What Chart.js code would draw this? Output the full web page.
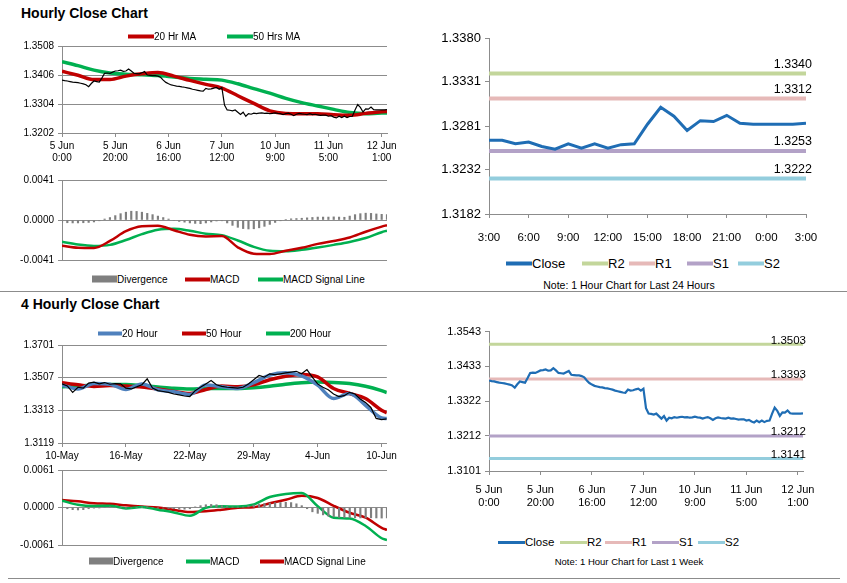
<!DOCTYPE html>
<html>
<head>
<meta charset="utf-8">
<script src="https://cdn.jsdelivr.net/npm/chart.js@4.4.1/dist/chart.umd.min.js"></script>
<style>
  body { margin: 0; background: #fff; width: 847px; height: 583px; position: relative; overflow: hidden;
         font-family: 'Liberation Sans', Arial, sans-serif; }
  canvas { position: absolute; }
  .title { position: absolute; left: 21px; font-weight: bold; font-size: 14px; color: #000; }
  .rule { position: absolute; height: 1px; background: #8c8c8c; }
  .legend { position: absolute; left: 0; width: 847px; height: 0; }
  .legend .item { position: absolute; top: 0; display: flex; align-items: center; transform: translateY(-50%);
                  white-space: nowrap; color: #000; }
  .note { position: absolute; transform: translate(-50%, -50%); white-space: nowrap; color: #000; }
</style>
</head>
<body>
<div class="title" style="top:5px">Hourly Close Chart</div>
<div class="title" style="top:296px">4 Hourly Close Chart</div>
<div class="rule" style="left:0;top:291px;width:847px"></div>
<div class="rule" style="left:8px;top:578px;width:832px"></div>

<canvas id="hourlyPrice" width="400" height="130" style="left:0;top:36px"></canvas>
<canvas id="hourlyMacd" width="400" height="100" style="left:0;top:170px"></canvas>
<canvas id="dayPrice" width="427" height="230" style="left:420px;top:25px"></canvas>
<canvas id="fourPrice" width="400" height="130" style="left:0;top:335px"></canvas>
<canvas id="fourMacd" width="400" height="95" style="left:0;top:460px"></canvas>
<canvas id="weekPrice" width="427" height="200" style="left:420px;top:321px"></canvas>

<div class="note" style="left:629px;top:285px;font:10.5px 'Liberation Sans',sans-serif">Note: 1 Hour Chart for Last 24 Hours</div>
<div class="note" style="left:629px;top:561px;font:9.5px 'Liberation Sans',sans-serif">Note: 1 Hour Chart for Last 1 Week</div>

<script>
// ---- hourly data (5 Jun 0:00 .. 12 Jun 3:00, one value per hour) ----
const closeHourly = [
  1.3388, 1.3386, 1.3385, 1.3383, 1.3381, 1.3380, 1.3379, 1.3377, 1.3375, 1.3372, 1.3365,
  1.3376, 1.3385, 1.3383, 1.3381, 1.3396, 1.3412, 1.3413, 1.3412, 1.3416, 1.3420,
  1.3421, 1.3423, 1.3419, 1.3420, 1.3427, 1.3420, 1.3412, 1.3411, 1.3410, 1.3414,
  1.3418, 1.3406, 1.3405, 1.3404, 1.3404, 1.3402, 1.3398, 1.3388, 1.3380, 1.3375,
  1.3371, 1.3369, 1.3367, 1.3366, 1.3364, 1.3363, 1.3361, 1.3359, 1.3356, 1.3354,
  1.3352, 1.3350, 1.3349, 1.3359, 1.3356, 1.3357, 1.3360, 1.3362, 1.3356, 1.3362,
  1.3300, 1.3283, 1.3282, 1.3280, 1.3283, 1.3275, 1.3267, 1.3275, 1.3261, 1.3270,
  1.3268, 1.3272, 1.3270, 1.3272, 1.3273, 1.3271, 1.3272, 1.3270, 1.3271, 1.3273,
  1.3271, 1.3270, 1.3267, 1.3270, 1.3272, 1.3268, 1.3263, 1.3268, 1.3271, 1.3269,
  1.3268, 1.3267, 1.3270, 1.3267, 1.3268, 1.3266, 1.3264,
  1.3265, 1.3265, 1.3261, 1.3263, 1.3258, 1.3255, 1.3261, 1.3256, 1.3261, 1.3256,
  1.3260, 1.3261, 1.3283, 1.3302, 1.3292, 1.3276, 1.3287, 1.3286, 1.3293, 1.3284,
  1.3283, 1.3283, 1.3283, 1.3283, 1.3284
];
// moving averages / MACD sampled every 6 bars
const maIdx = [0, 6, 12, 18, 24, 30, 36, 42, 48, 54, 60, 66, 72, 78, 84, 90, 96, 102, 108, 114, 120, 122];
const ma20Hourly = [1.3419, 1.3405, 1.3390, 1.3390, 1.3402, 1.3410, 1.3415, 1.3402, 1.3387, 1.3373, 1.3360,
                    1.3333, 1.3306, 1.3280, 1.3271, 1.3270, 1.3270, 1.3266, 1.3264, 1.3271, 1.3277, 1.3278];
const ma50Hourly = [1.3453, 1.3439, 1.3423, 1.3413, 1.3409, 1.3407, 1.3404, 1.3399, 1.3394, 1.3391, 1.3388,
                    1.3375, 1.3358, 1.3342, 1.3324, 1.3309, 1.3297, 1.3285, 1.3274, 1.3270, 1.3272, 1.3272];
const macdHourly = [-0.00263, -0.00284, -0.00286, -0.00215, -0.00115, -0.00065, -0.00059, -0.00105, -0.00152, -0.00168, -0.00165,
                    -0.00280, -0.00345, -0.00349, -0.00315, -0.00285, -0.00245, -0.00215, -0.00180, -0.00120, -0.00068, -0.00053];
const signalHourly = [-0.00224, -0.00252, -0.00266, -0.00255, -0.00205, -0.00145, -0.00100, -0.00090, -0.00110, -0.00140, -0.00155,
                      -0.00210, -0.00275, -0.00315, -0.00320, -0.00305, -0.00282, -0.00255, -0.00225, -0.00185, -0.00125, -0.00109];
// divergence sampled every 2 bars
const divHourly = [
  -0.00025, -0.00028, -0.00030, -0.00030, -0.00028, -0.00025, -0.00020, -0.00008, 0.00010, 0.00025,
  0.00045, 0.00065, 0.00080, 0.00090, 0.00088, 0.00080, 0.00068, 0.00055, 0.00040, 0.00025,
  0.00010, -0.00005, -0.00015, -0.00022, -0.00030, -0.00035, -0.00038, -0.00030, -0.00020, -0.00010,
  -0.00008, -0.00030, -0.00055, -0.00075, -0.00088, -0.00092, -0.00090, -0.00080, -0.00065, -0.00045,
  -0.00025, -0.00008, 0.00005, 0.00012, 0.00015, 0.00018, 0.00022, 0.00026, 0.00030, 0.00030,
  0.00030, 0.00032, 0.00030, 0.00028, 0.00040, 0.00055, 0.00065, 0.00070, 0.00068, 0.00062,
  0.00058, 0.00055
];
const hourTickIdx = [0, 20, 40, 60, 80, 100, 120];
const hourTickLabels = [['5 Jun', '0:00'], ['5 Jun', '20:00'], ['6 Jun', '16:00'], ['7 Jun', '12:00'],
                        ['10 Jun', '9:00'], ['11 Jun', '5:00'], ['12 Jun', '1:00']];
const hourlyPriceTicks = [1.3202, 1.3304, 1.3406, 1.3508];
const hourlyMacdTicks = [-0.0041, 0, 0.0041];
const weekPriceTicks = [1.3101, 1.3212, 1.3322, 1.3433, 1.3543];
const weekLevels = [1.3503, 1.3393, 1.3212, 1.3141];

// ---- last 24 hours ----
const dayClose = closeHourly.slice(98);
const dayTickIdx = [0, 3, 6, 9, 12, 15, 18, 21, 24];
const dayTickLabels = ['3:00', '6:00', '9:00', '12:00', '15:00', '18:00', '21:00', '0:00', '3:00'];
const dayPriceTicks = [1.3182, 1.3232, 1.3281, 1.3331, 1.3380];
const dayLevels = [1.3340, 1.3312, 1.3253, 1.3222];
const levelNames = ['R2', 'R1', 'S1', 'S2'];

// ---- 4 hourly data (10 May .. 10 Jun), close / divergence every 2 bars ----
const close4h = [
  1.3470, 1.3458, 1.3420, 1.3450, 1.3445, 1.3475, 1.3480, 1.3470, 1.3478, 1.3468,
  1.3472, 1.3470, 1.3445, 1.3440, 1.3452, 1.3465, 1.3500, 1.3445, 1.3430, 1.3425,
  1.3420, 1.3410, 1.3405, 1.3398, 1.3395, 1.3430, 1.3450, 1.3470, 1.3490, 1.3465,
  1.3455, 1.3450, 1.3448, 1.3445, 1.3450, 1.3470, 1.3495, 1.3520, 1.3510, 1.3530,
  1.3525, 1.3530, 1.3535, 1.3540, 1.3545, 1.3530, 1.3555, 1.3510, 1.3470, 1.3450,
  1.3435, 1.3410, 1.3395, 1.3400, 1.3420, 1.3410, 1.3380, 1.3360, 1.3330, 1.3265,
  1.3258, 1.3262
];
const ma20Four = [1.3463, 1.3440, 1.3473, 1.3468, 1.3437, 1.3470, 1.3435, 1.3423, 1.3407, 1.3463, 1.3453,
                  1.3443, 1.3477, 1.3522, 1.3536, 1.3518, 1.3463, 1.3383, 1.3413, 1.3343, 1.3268, 1.3264];
const ma50Four = [1.3477, 1.3465, 1.3455, 1.3460, 1.3457, 1.3452, 1.3440, 1.3425, 1.3413, 1.3437, 1.3457,
                  1.3453, 1.3465, 1.3495, 1.3516, 1.3526, 1.3512, 1.3443, 1.3413, 1.3383, 1.3314, 1.3298];
const ma200Four = [1.3453, 1.3458, 1.3463, 1.3466, 1.3466, 1.3460, 1.3452, 1.3444, 1.3440, 1.3442, 1.3443,
                   1.3443, 1.3447, 1.3456, 1.3468, 1.3477, 1.3481, 1.3479, 1.3472, 1.3456, 1.3430, 1.3419];
const macdFour = [0.00112, 0.00045, 0.00025, 0.00030, -0.00015, 0.00010, -0.00035, -0.00080, -0.00135, -0.00005, 0.00020,
                  0.00015, 0.00050, 0.00170, 0.00220, 0.00235, 0.00020, -0.00166, -0.00180, -0.00300, -0.00500, -0.00530];
const signalFour = [0.00123, 0.00100, 0.00070, 0.00060, 0.00035, 0.00015, 0.00000, -0.00040, -0.00075, -0.00062, -0.00035,
                    -0.00005, 0.00005, 0.00070, 0.00125, 0.00190, 0.00155, 0.00027, -0.00086, -0.00166, -0.00330, -0.00365];
const divFour = [
  0.00000, -0.00020, -0.00035, -0.00040, -0.00035, -0.00020, -0.00010, -0.00005, 0.00000, 0.00005,
  0.00000, -0.00005, -0.00010, -0.00008, 0.00000, 0.00005, 0.00005, 0.00000, -0.00005, -0.00010,
  -0.00015, -0.00020, -0.00025, -0.00028, -0.00020, 0.00010, 0.00030, 0.00045, 0.00050, 0.00045,
  0.00030, 0.00015, 0.00005, 0.00005, 0.00010, 0.00025, 0.00040, 0.00055, 0.00065, 0.00072,
  0.00078, 0.00082, 0.00085, 0.00080, 0.00060, 0.00030, -0.00020, -0.00070, -0.00095, -0.00120,
  -0.00140, -0.00150, -0.00160, -0.00165, -0.00165, -0.00168, -0.00170, -0.00170, -0.00168, -0.00170,
  -0.00172, -0.00170
];
const fourTickIdx = [0, 24, 48, 72, 96, 120];
const fourTickLabels = ['10-May', '16-May', '22-May', '29-May', '4-Jun', '10-Jun'];
const fourPriceTicks = [1.3119, 1.3313, 1.3507, 1.3701];
const fourMacdTicks = [-0.0061, 0, 0.0061];

// ---- styling ----
const RED = '#c00000', GREEN = '#00b050', BLUE20 = '#4f81bd', CLOSE_BLUE = '#1f6db4';
const BAR_GREY = '#7f7f7f', AXIS = '#8c8c8c';
const LEVEL_COLORS = ['#c3d69b', '#e6b9b8', '#b3a2c7', '#93cddd'];
const SANS = "'Liberation Sans', Arial, sans-serif";
const evenIdx = Array.from({ length: 62 }, (_, k) => 2 * k);

function pts(values, idx) {
  return values.map((v, k) => ({ x: idx ? idx[k] : k, y: v }));
}

function line(label, data, color, width) {
  return { type: 'line', label, data, borderColor: color, backgroundColor: color, borderWidth: width,
           pointRadius: 0, cubicInterpolationMode: 'monotone', fill: false };
}

function bars(label, data) {
  return { type: 'bar', label, data, backgroundColor: BAR_GREY, borderColor: BAR_GREY, borderWidth: 0, barThickness: 1.5 };
}

function xScale(max, tickIdx, tickLabels, o) {
  return {
    type: 'linear', min: 0, max: max, offset: false, display: o.display !== false,
    afterBuildTicks: ax => { ax.ticks = tickIdx.map(v => ({ value: v })); },
    afterFit: ax => { ax.height = o.height; },
    ticks: { autoSkip: false, maxRotation: 0, minRotation: 0, padding: o.pad, color: '#000', font: o.font,
             callback: (v, i) => tickLabels[i] },
    grid: { drawOnChartArea: false, offset: false, color: AXIS, tickLength: 4 },
    border: { color: AXIS }
  };
}

function yScale(tickVals, o) {
  return {
    min: tickVals[0], max: tickVals[tickVals.length - 1],
    afterBuildTicks: ax => { ax.ticks = tickVals.map(v => ({ value: v })); },
    afterFit: ax => { ax.width = o.width; },
    ticks: { padding: 4, color: '#000', font: o.font, callback: v => v.toFixed(4) },
    grid: { drawOnChartArea: !!o.grid, color: AXIS, tickLength: 4 },
    border: { color: AXIS }
  };
}

// legend built from the chart's own legend items, placed as html
const htmlLegend = {
  id: 'htmlLegend',
  afterUpdate(chart, args, o) {
    let box = document.getElementById(chart.canvas.id + 'Legend');
    if (!box) {
      box = document.createElement('div');
      box.id = chart.canvas.id + 'Legend';
      box.className = 'legend';
      document.body.appendChild(box);
    }
    box.innerHTML = '';
    box.style.top = o.top + 'px';
    box.style.font = o.font;
    const items = Chart.defaults.plugins.legend.labels.generateLabels(chart)
      .filter(it => !(o.skip || []).includes(it.text));
    items.forEach((it, k) => {
      const item = document.createElement('div');
      item.className = 'item';
      item.style.left = o.xs[k] + 'px';
      const sw = document.createElement('span');
      const isBar = chart.data.datasets[it.datasetIndex].type === 'bar';
      sw.style.display = 'inline-block';
      sw.style.width = o.swatch[0] + 'px';
      sw.style.height = (isBar ? o.barH : o.swatch[1]) + 'px';
      sw.style.background = it.fillStyle;
      const tx = document.createElement('span');
      tx.textContent = it.text;
      item.append(sw, tx);
      box.appendChild(item);
    });
  }
};

// value labels at the right end of the support / resistance lines
const levelLabels = {
  id: 'levelLabels',
  afterDatasetsDraw(chart, args, o) {
    const ctx = chart.ctx;
    ctx.save();
    ctx.font = o.font;
    ctx.fillStyle = '#000';
    ctx.textAlign = 'right';
    ctx.textBaseline = 'bottom';
    chart.data.datasets.forEach((ds, i) => {
      if (!ds.level) return;
      const pt = chart.getDatasetMeta(i).data[1];
      ctx.fillText(ds.data[1].y.toFixed(4), pt.x + o.dx, pt.y + o.dy);
    });
    ctx.restore();
  }
};

function makeChart(id, datasets, xs, ys, padding, legendOpts, levelOpts) {
  return new Chart(document.getElementById(id), {
    type: 'line',
    data: { datasets },
    options: {
      responsive: false,
      animation: false,
      layout: { padding },
      scales: { x: xs, y: ys },
      plugins: {
        legend: { display: false },
        tooltip: { enabled: false },
        htmlLegend: legendOpts,
        levelLabels: levelOpts || false
      }
    },
    plugins: [htmlLegend, levelLabels]
  });
}

function levelSets(levels, last, width) {
  return levels.map((v, k) => Object.assign(line(levelNames[k], [{ x: 0, y: v }, { x: last, y: v }], LEVEL_COLORS[k], width), { level: true }));
}

const smallFont = { family: SANS, size: 10 };

// Hourly close with moving averages
makeChart('hourlyPrice', [
  Object.assign(line('Close', pts(closeHourly), '#000', 1.2), { cubicInterpolationMode: 'default', tension: 0 }),
  line('20 Hr MA', pts(ma20Hourly, maIdx), RED, 3.5),
  line('50 Hrs MA', pts(ma50Hourly, maIdx), GREEN, 3.5)
],
  xScale(122, hourTickIdx, hourTickLabels, { height: 33, pad: 3, font: smallFont }),
  yScale(hourlyPriceTicks, { width: 62, grid: true, font: smallFont }),
  { top: 10, left: 0, right: 13, bottom: 0 },
  { top: 36, xs: [128, 227], swatch: [26, 4], barH: 7, font: "10px 'Liberation Sans', sans-serif", skip: ['Close'] });

// Hourly MACD
makeChart('hourlyMacd', [
  bars('Divergence', pts(divHourly, evenIdx)),
  line('MACD', pts(macdHourly, maIdx), RED, 2.5),
  line('MACD Signal Line', pts(signalHourly, maIdx), GREEN, 2.5)
],
  xScale(122, hourTickIdx, hourTickLabels, { display: false, height: 0, pad: 0, font: smallFont }),
  yScale(hourlyMacdTicks, { width: 62, grid: true, font: smallFont }),
  { top: 10, left: 0, right: 13, bottom: 7 },
  { top: 279, xs: [92, 185, 258], swatch: [25, 4], barH: 7, font: "10px 'Liberation Sans', sans-serif" });

// Last 24 hours with pivot levels
makeChart('dayPrice', [
  Object.assign(line('Close', pts(dayClose), CLOSE_BLUE, 3), { cubicInterpolationMode: 'default', tension: 0 }),
  ...levelSets(dayLevels, 24, 4)
],
  xScale(24, dayTickIdx, dayTickLabels, { height: 41, pad: 13, font: { family: SANS, size: 11.5 } }),
  yScale(dayPriceTicks, { width: 69, grid: false, font: { family: SANS, size: 13 } }),
  { top: 13, left: 0, right: 41, bottom: 0 },
  { top: 263, xs: [506, 582, 629, 687, 738], swatch: [26, 4], barH: 7, font: "13px 'Liberation Sans', sans-serif" },
  { font: "12.5px 'Liberation Sans', sans-serif", dx: 6, dy: -3 });

// 4 hourly close with moving averages
makeChart('fourPrice', [
  Object.assign(line('Close', pts(close4h, evenIdx), '#000', 1.2), { cubicInterpolationMode: 'default', tension: 0 }),
  line('20 Hour', pts(ma20Four, maIdx), BLUE20, 3.5),
  line('50 Hour', pts(ma50Four, maIdx), RED, 3.5),
  line('200 Hour', pts(ma200Four, maIdx), GREEN, 3.5)
],
  xScale(122, fourTickIdx, fourTickLabels, { height: 22, pad: 3, font: smallFont }),
  yScale(fourPriceTicks, { width: 62, grid: true, font: smallFont }),
  { top: 10, left: 0, right: 13, bottom: 0 },
  { top: 333, xs: [98, 182, 266], swatch: [24, 4], barH: 7, font: "10px 'Liberation Sans', sans-serif", skip: ['Close'] });

// 4 hourly MACD
makeChart('fourMacd', [
  bars('Divergence', pts(divFour, evenIdx)),
  line('MACD', pts(macdFour, maIdx), GREEN, 2.5),
  line('MACD Signal Line', pts(signalFour, maIdx), RED, 2.5)
],
  xScale(122, fourTickIdx, fourTickLabels, { display: false, height: 0, pad: 0, font: smallFont }),
  yScale(fourMacdTicks, { width: 62, grid: true, font: smallFont }),
  { top: 10, left: 0, right: 13, bottom: 9 },
  { top: 561, xs: [89, 186, 260], swatch: [24, 4], barH: 7, font: "10px 'Liberation Sans', sans-serif" });

// Last week hourly with pivot levels
makeChart('weekPrice', [
  Object.assign(line('Close', pts(closeHourly), CLOSE_BLUE, 2.2), { cubicInterpolationMode: 'default', tension: 0 }),
  ...levelSets(weekLevels, 122, 3)
],
  xScale(122, hourTickIdx, hourTickLabels, { height: 50, pad: 8, font: { family: SANS, size: 11 } }),
  yScale(weekPriceTicks, { width: 69, grid: false, font: { family: SANS, size: 11 } }),
  { top: 10, left: 0, right: 44, bottom: 0 },
  { top: 542, xs: [498, 560, 605, 652, 698], swatch: [27, 3], barH: 7, font: "11.5px 'Liberation Sans', sans-serif" },
  { font: "11.5px 'Liberation Sans', sans-serif", dx: 3, dy: 2 });
</script>
</body>
</html>
